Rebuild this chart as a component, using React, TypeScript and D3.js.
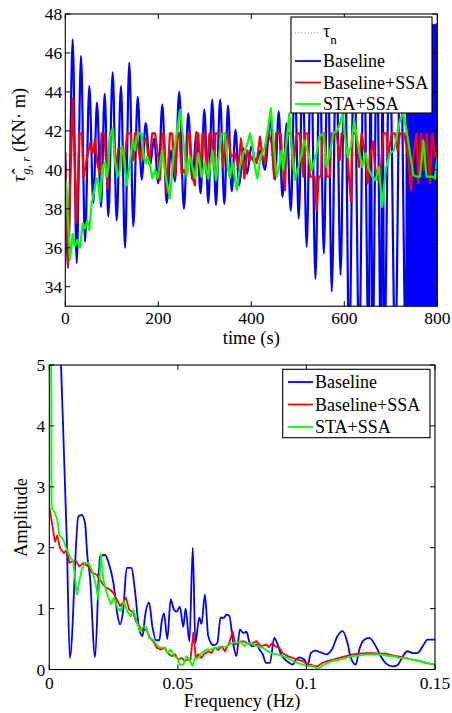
import React from 'react';
import * as d3 from 'd3';

type P = [number, number];

const tauN = 40.75;
const timeTicks = [0, 200, 400, 600, 800];
const torqueTicks = [34, 36, 38, 40, 42, 44, 46, 48];
const freqTicks = [0, 0.05, 0.1, 0.15];
const freqTickLabels = ['0', '0.05', '0.1', '0.15'];
const ampTicks = [0, 1, 2, 3, 4, 5];

const seriesNames = ['Baseline', 'Baseline+SSA', 'STA+SSA'];
const seriesColors = ['#0000ff', '#ff0000', '#00ff00'];

// top panel: time (s), torque (KN m)
const baselineTorque: P[] = [
  [0, 40.5], [5.8, 34.95], [15.9, 46.7], [24.5, 35.2], [33.8, 45.85], [42.4, 36.3], [51.7, 44.3],
  [60.2, 38.3], [68.2, 43.45], [76.8, 38.1], [84.7, 43.9], [92.5, 37.6], [101.9, 45.0], [110.5, 37.4],
  [119.8, 44.3], [128.4, 36.0], [137.6, 45.5], [146.2, 37.1], [155.7, 43.75], [164.3, 39.5], [172.9, 42.4],
  [182.1, 40.2], [191, 41.6], [200, 39.3], [208.6, 43.35], [218, 38.3], [227, 41.0], [235.8, 39.4],
  [245, 44.0], [255, 38.0], [264.5, 42.9], [273, 39.5], [282.5, 41.95], [291, 38.8], [299, 43.1],
  [307.5, 38.3], [316, 43.6], [324, 38.2], [333, 43.6], [342, 38.25], [350, 43.3], [358, 38.9],
  [366, 42.05], [374, 39.2], [383, 41.1], [391, 39.8], [400, 41.2], [410, 40.4], [420, 41.0],
  [429, 40.0], [441, 42.55], [451, 39.5], [459, 43.0], [467, 38.6], [476, 42.4], [485, 37.9],
  [493.5, 45], [502, 37.5], [510.5, 45.5], [519, 36.05], [528.5, 46], [538, 34.4], [547, 46],
  [556, 35.7], [564.5, 46.5], [573, 33.75], [582.5, 46.5], [592, 34.6], [601, 47], [610.6, 30.5],
  [621, 47], [632.1, 30.5], [642, 47], [652.3, 30.5], [656.5, 45], [660.9, 30.5], [670, 47],
  [678.8, 30.5], [682.3, 45], [685.9, 30.5], [697.5, 47], [709.5, 30.5], [721, 47], [732.5, 30.5],
];

const baselineBurst: P[] = [
  [735.5, 47.5], [737, 30.5], [738.5, 47.5], [740, 30.5], [741.5, 47.3], [743, 30.5], [744.5, 47.5],
  [746, 30.5], [747.5, 47.4], [749, 30.5], [750.5, 47.5], [752, 30.5], [753.5, 47.5], [755, 30.5],
  [756.5, 47.3], [758, 30.5], [759.5, 47.5], [761, 30.5], [762.5, 47.5], [764, 30.5], [765.5, 47.4],
  [767, 30.5], [768.5, 47.5], [770, 30.5], [771.5, 47.5], [773, 30.5], [774.5, 47.5], [776, 30.5],
  [777.5, 47.5], [779, 30.5], [780.5, 47.4], [782, 30.5], [783.5, 47.5], [785, 30.5], [786.5, 47.5],
  [788, 30.5], [789.5, 47.5], [791, 30.5], [792.5, 47.5], [794, 30.5], [795.5, 47.5], [797, 30.5],
  [798.5, 47.5], [800, 30.5],
];

const ssaTorque: P[] = [
  [0, 40.9], [5.8, 35.1], [15.8, 43.67], [24.4, 37.25], [30.2, 41.87], [35.9, 41.87], [38.8, 39.56],
  [44.5, 40.33], [53.1, 41.36], [58.8, 40.85], [63.9, 41.6], [68.9, 40.33], [74.6, 39.8], [78, 41.87],
  [84, 41.87], [91.1, 39.05], [96.1, 41.87], [103.3, 41.87], [109, 40.1], [114, 41.1], [121.2, 41.1],
  [126.2, 40.1], [133, 41.87], [140.5, 41.87], [146.3, 40.5], [150, 41.87], [153, 41.87], [160.6, 40.5],
  [166.3, 41.36], [173.5, 41.6], [180.7, 40.33], [187, 41.87], [193, 41.87], [200, 40.67],
  [203.7, 39.5], [208, 41.87], [212, 41.87], [218, 38.83], [225, 41.87], [230, 41.87], [235.9, 39.65],
  [241, 41.87], [245, 41.87], [250.2, 39.8], [255.3, 40.0], [258.9, 39.8], [264, 41.87], [268, 41.87],
  [273.2, 39.65], [278.9, 39.2], [282, 41.87], [286, 41.87], [291.1, 39.65], [295, 41.87], [299, 41.87],
  [304, 39.8], [310, 41.87], [314, 41.87], [319.8, 40.0], [323, 41.87], [334, 41.87], [339.9, 40.15],
  [344, 41.87], [347, 41.87], [350.6, 41.7], [356.4, 40.67], [365, 40.85], [372.1, 40.15], [377.9, 41.6],
  [385.1, 39.56], [391.5, 41.0], [397.2, 40.5], [400.7, 40.67], [405.7, 40.4], [411.4, 40.33],
  [418.6, 41.7], [424.3, 40.67], [429.4, 40.33], [434, 41.87], [437, 41.87], [443.7, 41.36], [449.4, 39.56],
  [453, 41.87], [463.1, 41.87], [467.4, 40.33], [472.4, 38.96], [476, 41.87], [484.6, 41.87], [490.3, 40.0],
  [496, 41.7], [500, 41.87], [504.6, 41.87], [511.8, 39.65], [516, 41.87], [522, 41.87], [526, 39.65],
  [536, 39.65], [540.5, 37.9], [545, 39.65], [550, 39.65], [553, 41.87], [558, 41.87], [562, 39.65],
  [569.2, 39.65], [572, 41.87], [583.5, 41.87], [590, 40.5], [594.3, 41.87], [600, 41.87], [604, 41.7],
  [610, 39.65], [614.3, 38.37], [617.2, 41.87], [624.3, 41.87], [631.5, 40.15], [637.2, 41.87],
  [644.4, 40.85], [650.2, 39.3], [655.2, 40.67], [662.3, 41.45], [665.9, 40.15], [671.7, 39.56],
  [676.7, 39.3], [683.9, 41.87], [691, 41.87], [694.6, 40.67], [701.8, 41.87], [709, 41.87], [714.7, 41.0],
  [719.7, 41.87], [729, 41.87], [737.6, 40.67], [743.4, 38.96], [748.4, 40.67], [755.6, 41.87],
  [759.1, 39.3], [764.9, 41.87], [772, 40.0], [777, 41.87], [784.2, 39.3], [789.2, 41.87], [795, 40.67],
  [800, 41.0],
];

const staTorque: P[] = [
  [0, 39.6], [1.5, 39.3], [10.1, 35.4], [15.8, 36.7], [20.9, 36.1], [25.9, 36.4], [31.6, 36.0],
  [37.4, 37.25], [42.4, 37.0], [47.4, 37.4], [51.7, 36.9], [56.7, 38.3], [60.3, 38.7], [67.5, 39.56],
  [71.1, 39.3], [74.6, 38.37], [80.4, 40.15], [85.4, 40.4], [89, 39.65], [92.6, 40.15], [96.1, 41.7],
  [101.9, 42.13], [106.9, 40.4], [111.9, 39.65], [117.7, 40.0], [121.2, 41.2], [126.3, 40.67],
  [132, 39.2], [139.2, 40.4], [144.9, 41.5], [150, 41.0], [153.5, 41.7], [159.2, 41.87], [164.3, 41.87],
  [167.9, 40.67], [172.9, 40.33], [176.5, 40.67], [182.2, 40.25], [187.2, 39.56], [193, 40.0],
  [198.6, 39.56], [208.7, 41.0], [215.8, 39.65], [225.2, 38.54], [232.3, 40.67], [239.5, 41.87],
  [246.7, 43.07], [255.3, 41.2], [261, 39.65], [268.2, 40.67], [273.2, 40.15], [278.9, 39.56],
  [286.1, 40.85], [293.3, 39.65], [300.4, 40.4], [307.6, 39.56], [316.2, 41.0], [324.1, 39.48],
  [336.3, 41.87], [343.5, 41.87], [349.2, 40.15], [354.2, 39.56], [359.2, 40.4], [368.6, 38.96],
  [375.7, 40.15], [382.9, 40.85], [390.1, 41.2], [397.2, 41.87], [402.8, 41.2], [407.9, 40.15],
  [412.9, 39.56], [420, 40.67], [429.4, 41.2], [436.5, 42.2], [442.3, 43.15], [447.3, 41.5],
  [454.5, 39.65], [460.2, 40.15], [465.2, 41.0], [468.8, 40.0], [476, 41.5], [481.7, 42.9],
  [486.7, 41.2], [493.9, 39.48], [501.1, 40.15], [508.2, 40.85], [513.3, 41.5], [522.6, 40.85],
  [529.7, 40.0], [535.5, 40.5], [540.5, 40.85], [546.2, 41.7], [554.8, 41.87], [562, 40.15],
  [569.2, 40.85], [576.3, 41.87], [585, 42.0], [590.7, 42.4], [596.4, 42.9], [601.4, 41.7],
  [607.1, 40.67], [614.3, 41.2], [621.5, 42.55], [630.1, 41.2], [638.7, 40.15], [645.9, 40.85],
  [653, 40.0], [660.2, 39.65], [667.4, 39.48], [674.5, 40.15], [681.7, 38.1], [688.9, 40.0],
  [698.2, 40.85], [706.8, 41.0], [712.5, 41.7], [719.7, 42.55], [726.9, 42.9], [734, 42.0],
  [741.2, 40.85], [748.4, 39.73], [755.6, 39.65], [762.7, 39.65], [769.9, 41.5], [777, 39.65],
  [784.2, 39.65], [789.2, 39.65], [795, 39.56], [798.6, 40.33], [800, 40.67],
];

// bottom panel: frequency (Hz), amplitude
const baselineSpec: P[] = [
  [0.0025, 8], [0.0044, 5.2], [0.0068, 2.13], [0.008, 0.19], [0.0113, 2.51], [0.0126, 2.54],
  [0.0139, 2.4], [0.0148, 1.86], [0.0158, 1.53], [0.0178, 0.2], [0.0197, 1.86], [0.0217, 1.88],
  [0.023, 1.76], [0.0249, 1.43], [0.0265, 0.9], [0.0275, 0.74], [0.0288, 1.0], [0.0301, 1.67],
  [0.032, 1.67], [0.0333, 1.3], [0.035, 0.66], [0.0363, 0.55], [0.0372, 0.87], [0.0388, 1.1],
  [0.0401, 0.7], [0.0415, 0.48], [0.0428, 0.48], [0.0437, 0.78], [0.0446, 0.92], [0.0459, 0.5],
  [0.0472, 1.15], [0.0485, 0.98], [0.0495, 0.95], [0.0508, 1.03], [0.0521, 0.7], [0.053, 1.0],
  [0.0545, 0.46], [0.0558, 2.0], [0.0568, 0.43], [0.0583, 0.85], [0.0592, 0.75], [0.0605, 1.23],
  [0.0618, 0.55], [0.0638, 0.4], [0.0653, 0.43], [0.0666, 0.85], [0.0679, 0.85], [0.0689, 0.9],
  [0.07, 0.88], [0.0716, 0.41], [0.0728, 0.22], [0.0741, 0.66], [0.0754, 0.6], [0.0767, 0.62],
  [0.0778, 0.45], [0.0791, 0.38], [0.0806, 0.41], [0.0817, 0.33], [0.083, 0.25], [0.0843, 0.11],
  [0.0858, 0.11], [0.0875, 0.52], [0.0888, 0.41], [0.0901, 0.25], [0.0918, 0.16], [0.0933, 0.11],
  [0.0946, 0.08], [0.0959, 0.16], [0.0972, 0.2], [0.0992, 0.16], [0.1005, 0.07], [0.1017, 0.27],
  [0.1034, 0.31], [0.1056, 0.28], [0.1076, 0.25], [0.1099, 0.33], [0.1121, 0.55], [0.1141, 0.63],
  [0.116, 0.43], [0.1173, 0.19], [0.1192, 0.08], [0.1205, 0.32], [0.1225, 0.49], [0.1244, 0.52],
  [0.127, 0.38], [0.129, 0.21], [0.1309, 0.1], [0.1335, 0.05], [0.1354, 0.07], [0.1374, 0.21],
  [0.1393, 0.3], [0.1413, 0.27], [0.1432, 0.27], [0.1452, 0.38], [0.1471, 0.49], [0.15, 0.49],
];

const ssaSpec: P[] = [
  [0, 2.65], [0.0003, 2.6], [0.0022, 2.1], [0.0031, 2.2], [0.0042, 1.99], [0.0057, 1.91],
  [0.0068, 1.97], [0.0078, 1.75], [0.0091, 1.78], [0.0104, 1.78], [0.0117, 1.69], [0.0132, 1.75],
  [0.0152, 1.69], [0.0165, 1.59], [0.0184, 1.56], [0.0197, 1.48], [0.021, 1.39], [0.0223, 1.34],
  [0.0236, 1.31], [0.0249, 1.26], [0.0262, 1.15], [0.0275, 1.04], [0.0285, 1.09], [0.0298, 1.18],
  [0.0311, 0.98], [0.0327, 0.93], [0.0337, 0.79], [0.035, 0.71], [0.0363, 0.63], [0.0378, 0.66],
  [0.0391, 0.52], [0.0404, 0.465], [0.0417, 0.36], [0.0433, 0.33], [0.045, 0.36], [0.046, 0.27],
  [0.0476, 0.22], [0.0489, 0.25], [0.0502, 0.16], [0.0514, 0.19], [0.0527, 0.14], [0.054, 0.16],
  [0.0549, 0.16], [0.056, 0.6], [0.057, 0.19], [0.058, 0.25], [0.0592, 0.19], [0.0601, 0.25],
  [0.0618, 0.3], [0.0631, 0.27], [0.0644, 0.36], [0.0657, 0.32], [0.067, 0.38], [0.0683, 0.3],
  [0.07, 0.44], [0.0713, 0.63], [0.0723, 0.41], [0.0739, 0.44], [0.0754, 0.465], [0.0767, 0.44],
  [0.078, 0.41], [0.0793, 0.44], [0.0806, 0.465], [0.0823, 0.38], [0.0843, 0.41], [0.0855, 0.37],
  [0.0868, 0.44], [0.0879, 0.38], [0.0894, 0.36], [0.0907, 0.27], [0.0927, 0.22], [0.0946, 0.19],
  [0.0966, 0.16], [0.0985, 0.14], [0.1005, 0.08], [0.1017, 0.08], [0.103, 0.055], [0.1043, 0.055],
  [0.1063, 0.11], [0.1082, 0.14], [0.1102, 0.16], [0.1128, 0.19], [0.1154, 0.22], [0.1179, 0.25],
  [0.1205, 0.26], [0.1231, 0.27], [0.1257, 0.27], [0.1283, 0.26], [0.1309, 0.26], [0.1335, 0.23],
  [0.1361, 0.21], [0.1387, 0.19], [0.1413, 0.16], [0.1439, 0.14], [0.1465, 0.11], [0.15, 0.08],
];

const staSpec: P[] = [
  [0, 8], [0.0005, 8], [0.0009, 2.65], [0.0022, 2.57], [0.0031, 2.46], [0.0039, 2.21], [0.0055, 2.13],
  [0.0068, 1.97], [0.0081, 1.84], [0.0093, 1.78], [0.0107, 1.23], [0.0126, 1.64], [0.0139, 1.75],
  [0.0152, 1.75], [0.0165, 1.64], [0.0178, 1.45], [0.0191, 1.15], [0.0201, 1.89], [0.021, 1.48],
  [0.0223, 1.26], [0.0239, 1.07], [0.0252, 1.18], [0.0265, 1.01], [0.0277, 0.96], [0.029, 1.12],
  [0.0303, 0.96], [0.0316, 0.87], [0.0327, 0.98], [0.034, 0.79], [0.0353, 0.63], [0.0366, 0.71],
  [0.0376, 0.7], [0.0389, 0.52], [0.0404, 0.49], [0.0417, 0.41], [0.043, 0.36], [0.0446, 0.36],
  [0.046, 0.27], [0.0472, 0.33], [0.0485, 0.22], [0.0498, 0.19], [0.0508, 0.08], [0.0521, 0.08],
  [0.0534, 0.22], [0.0547, 0.14], [0.0557, 0.055], [0.0566, 0.19], [0.058, 0.19], [0.0592, 0.27],
  [0.0612, 0.33], [0.0631, 0.33], [0.0651, 0.36], [0.067, 0.38], [0.0687, 0.37], [0.07, 0.41],
  [0.0713, 0.44], [0.0732, 0.44], [0.0745, 0.465], [0.0758, 0.38], [0.0771, 0.44], [0.0791, 0.41],
  [0.081, 0.38], [0.083, 0.36], [0.0849, 0.3], [0.0868, 0.26], [0.0888, 0.25], [0.0907, 0.22],
  [0.0927, 0.19], [0.0946, 0.14], [0.0966, 0.11], [0.0985, 0.08], [0.1005, 0.055], [0.1024, 0.055],
  [0.1047, 0.01], [0.1063, 0.066], [0.1082, 0.11], [0.1102, 0.14], [0.1128, 0.16], [0.1154, 0.19],
  [0.1179, 0.22], [0.1205, 0.23], [0.1231, 0.25], [0.1257, 0.25], [0.1283, 0.25], [0.1309, 0.23],
  [0.1335, 0.22], [0.1361, 0.19], [0.1387, 0.19], [0.1413, 0.16], [0.1439, 0.14], [0.1465, 0.11],
  [0.15, 0.08],
];

const FONT = '"Liberation Serif", "DejaVu Serif", serif';

export default function App() {
  const W = 452, H = 713;
  const x1 = d3.scaleLinear().domain([0, 800]).range([65.3, 437.3]);
  const y1 = d3.scaleLinear().domain([33, 48]).range([306.2, 14]);
  const x2 = d3.scaleLinear().domain([0, 0.15]).range([49.3, 435]);
  const y2 = d3.scaleLinear().domain([0, 5]).range([669.5, 365]);

  const l1 = (curve: any) => d3.line<P>().x(d => x1(d[0])).y(d => y1(d[1])).curve(curve);
  const l2 = (curve: any) => d3.line<P>().x(d => x2(d[0])).y(d => y2(d[1])).curve(curve);

  const [ax0, ax1] = x1.range();
  const [ay0, ay1] = y1.range();
  const [bx0, bx1] = x2.range();
  const [by0, by1] = y2.range();
  const TL = 5;
  const tickFs = 17.5;
  const labFs = 18.5;
  const ts: React.CSSProperties = { fontFamily: FONT };

  return (
    <svg width={W} height={H} style={{ position: 'absolute', left: 0, top: 0, background: '#fff', fontFamily: FONT }}>
      <defs>
        <clipPath id="c1"><rect x={ax0} y={ay1} width={ax1 - ax0} height={ay0 - ay1} /></clipPath>
        <clipPath id="c2"><rect x={bx0} y={by1} width={bx1 - bx0} height={by0 - by1} /></clipPath>
      </defs>
      <rect x={0} y={0} width={W} height={H} fill="#fff" />

      {/* ===== top panel ===== */}
      <g clipPath="url(#c1)">
        <line x1={ax0} x2={ax1} y1={y1(tauN)} y2={y1(tauN)} stroke="#8c8c8c" strokeWidth={1.2} strokeDasharray="1.2,2" />
        <path d={l1(d3.curveMonotoneX)(baselineTorque.concat(baselineBurst)) || ''} fill="none" stroke={seriesColors[0]} strokeWidth={2.2} strokeLinejoin="round" />
        <path d={l1(d3.curveLinear)(ssaTorque) || ''} fill="none" stroke={seriesColors[1]} strokeWidth={2.2} strokeLinejoin="round" />
        <path d={l1(d3.curveLinear)(staTorque) || ''} fill="none" stroke={seriesColors[2]} strokeWidth={2.2} strokeLinejoin="round" />
      </g>
      <rect x={ax0} y={ay1} width={ax1 - ax0} height={ay0 - ay1} fill="none" stroke="#000" strokeWidth={1.1} />
      {timeTicks.map(t => (
        <g key={'tx' + t}>
          <line x1={x1(t)} x2={x1(t)} y1={ay0} y2={ay0 - TL} stroke="#000" />
          <line x1={x1(t)} x2={x1(t)} y1={ay1} y2={ay1 + TL} stroke="#000" />
          <text style={ts} x={x1(t)} y={ay0 + 18} fontSize={tickFs} textAnchor="middle" fill="#000">{t}</text>
        </g>
      ))}
      {torqueTicks.map(v => (
        <g key={'ty' + v}>
          <line x1={ax0} x2={ax0 + TL} y1={y1(v)} y2={y1(v)} stroke="#000" />
          <line x1={ax1} x2={ax1 - TL} y1={y1(v)} y2={y1(v)} stroke="#000" />
          <text style={ts} x={ax0 - 3} y={y1(v) + 6} fontSize={tickFs} textAnchor="end" fill="#000">{v}</text>
        </g>
      ))}
      <text style={ts} x={(ax0 + ax1) / 2} y={344} fontSize={labFs} textAnchor="middle">time (s)</text>
      <text style={ts} transform="translate(25,135) rotate(-90)" fontSize={labFs} textAnchor="middle">
        <tspan fontStyle="italic">τ̂</tspan>
        <tspan fontStyle="italic" fontSize={13} dx={1} dy={5}>g, r</tspan>
        <tspan dy={-5}> (KN· m)</tspan>
      </text>

      {/* legend top */}
      <g>
        <rect x={291} y={17} width={141} height={96} fill="#fff" stroke="#000" strokeWidth={1.1} />
        <line x1={295} x2={321} y1={33} y2={33} stroke="#8c8c8c" strokeWidth={1.2} strokeDasharray="1.2,2" />
        <text style={ts} x={323} y={37} fontSize={18}>τ<tspan fontSize={13} dy={7}>n</tspan></text>
        {seriesNames.map((n, i) => (
          <g key={n}>
            <line x1={295} x2={321} y1={61 + i * 21.5} y2={61 + i * 21.5} stroke={seriesColors[i]} strokeWidth={1.8} />
            <text style={ts} x={323} y={67 + i * 21.5} fontSize={18}>{n}</text>
          </g>
        ))}
      </g>

      {/* ===== bottom panel ===== */}
      <g clipPath="url(#c2)">
        <path d={l2(d3.curveMonotoneX)(baselineSpec) || ''} fill="none" stroke={seriesColors[0]} strokeWidth={1.8} strokeLinejoin="round" />
        <path d={l2(d3.curveLinear)(ssaSpec) || ''} fill="none" stroke={seriesColors[1]} strokeWidth={1.8} strokeLinejoin="round" />
        <path d={l2(d3.curveLinear)(staSpec) || ''} fill="none" stroke={seriesColors[2]} strokeWidth={1.8} strokeLinejoin="round" />
      </g>
      <rect x={bx0} y={by1} width={bx1 - bx0} height={by0 - by1} fill="none" stroke="#000" strokeWidth={1.1} />
      {freqTicks.map((f, i) => (
        <g key={'fx' + f}>
          <line x1={x2(f)} x2={x2(f)} y1={by0} y2={by0 - TL} stroke="#000" />
          <line x1={x2(f)} x2={x2(f)} y1={by1} y2={by1 + TL} stroke="#000" />
          <text style={ts} x={x2(f)} y={by0 + 19} fontSize={tickFs} textAnchor="middle">{freqTickLabels[i]}</text>
        </g>
      ))}
      {ampTicks.map(v => (
        <g key={'fy' + v}>
          <line x1={bx0} x2={bx0 + TL} y1={y2(v)} y2={y2(v)} stroke="#000" />
          <line x1={bx1} x2={bx1 - TL} y1={y2(v)} y2={y2(v)} stroke="#000" />
          <text style={ts} x={bx0 - 4} y={y2(v) + 6} fontSize={tickFs} textAnchor="end">{v}</text>
        </g>
      ))}
      <text style={ts} x={(bx0 + bx1) / 2} y={707} fontSize={labFs} textAnchor="middle">Frequency (Hz)</text>
      <text style={ts} transform="translate(27,517.5) rotate(-90)" fontSize={labFs} textAnchor="middle">Amplitude</text>

      {/* legend bottom */}
      <g>
        <rect x={282.7} y={369.3} width={147.3} height={68.4} fill="#fff" stroke="#000" strokeWidth={1.1} />
        {seriesNames.map((n, i) => (
          <g key={'b' + n}>
            <line x1={288} x2={313} y1={382 + i * 22.5} y2={382 + i * 22.5} stroke={seriesColors[i]} strokeWidth={1.8} />
            <text style={ts} x={315} y={388 + i * 22.5} fontSize={18}>{n}</text>
          </g>
        ))}
      </g>
    </svg>
  );
}
